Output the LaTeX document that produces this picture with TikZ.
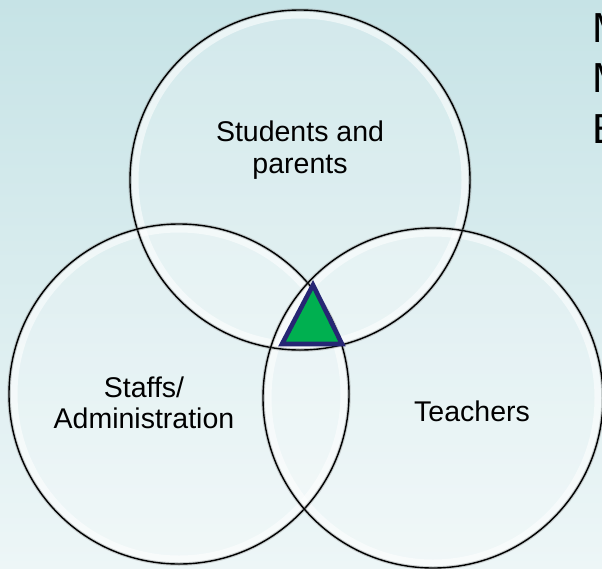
\documentclass[tikz,border=0pt]{standalone}
\usepackage{fontspec}
\setmainfont{Liberation Sans}
\usetikzlibrary{positioning}

\definecolor{bgtop}{RGB}{198,227,230}
\definecolor{bgbottom}{RGB}{237,246,247}
\definecolor{tgreen}{RGB}{0,176,80}
\definecolor{tnavy}{RGB}{38,38,116}

\begin{document}
\begin{tikzpicture}[x=1pt,y=-1pt]
    \tikzset{venn/.style = {shape=circle,minimum size=340pt,inner sep=0pt}}
    \tikzset{venntext/.style = {align=center,inner sep=0pt,font=\fontsize{28.5pt}{31.5pt}\selectfont}}
    \tikzset{sidetext/.style = {anchor=base west,inner sep=0pt,font=\fontsize{42pt}{50pt}\selectfont}}
    \tikzset{rim/.style = {line width=1.4pt}}
    % background
    \useasboundingbox (0,0) rectangle (602,568);
    \clip (0,0) rectangle (602,568);
    \shade[top color=bgtop,bottom color=bgbottom] (0,0) rectangle (602,568);
    % circles
    \node[venn] (students) at (300,180) {};
    \node[venn] (staffs) at (179,394) {};
    \node[venn] (teachers) at (433,398) {};
    \foreach \c in {students,staffs,teachers}
        \fill[white,opacity=0.22] (\c.center) circle (170pt);
    \foreach \c in {students,staffs,teachers}
        \draw[white,opacity=0.55,line width=7pt] (\c.center) circle (165pt);
    \foreach \c in {students,staffs,teachers}{
        \draw[gray,opacity=0.35,line width=3.5pt] (\c.center) circle (170pt);
        \draw[rim] (\c.center) circle (170pt);
    }
    % labels
    \node[venntext] (studentstext) at (300,150) {Students and\\parents};
    \node[venntext] (staffstext) at (144,403) {Staffs/\\Administration};
    \node[venntext,anchor=base] (teacherstext) at (472,421) {Teachers};
    % triangle
    \draw[tnavy,fill=tgreen,line width=4.6pt,line join=miter] (313,285) -- (282,344) -- (342,344) -- cycle;
    % side text
    \node[sidetext] (side1) at (592,42) {M};
    \node[sidetext] (side2) at (592,92) {M};
    \node[sidetext] (side3) at (592,143) {E};
\end{tikzpicture}
\end{document}
